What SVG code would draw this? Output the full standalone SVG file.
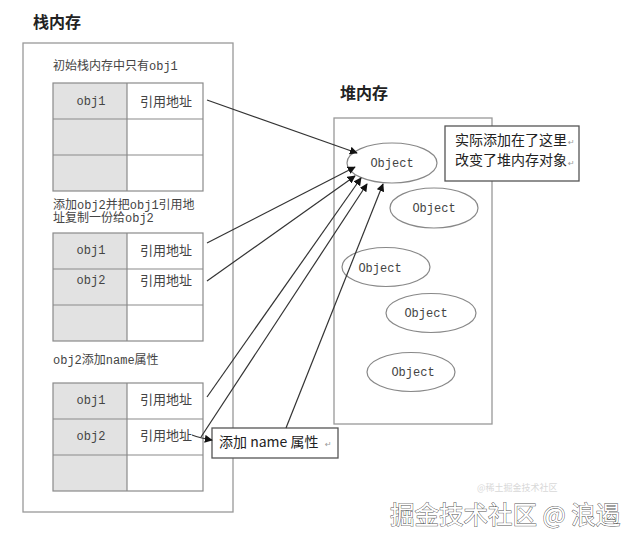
<svg xmlns="http://www.w3.org/2000/svg" width="642" height="546" viewBox="0 0 642 546">
<defs>
<marker id="ah" viewBox="0 0 10 10" refX="9" refY="5" markerWidth="8" markerHeight="8" markerUnits="userSpaceOnUse" orient="auto">
<path d="M0,0 L10,5 L0,10 z" fill="#111"/>
</marker>
</defs>
<style>
.title{font-family:"Noto Sans CJK SC","Noto Sans",sans-serif;font-size:16px;font-weight:bold;fill:#222}
.lbl{font-family:"Liberation Mono","Noto Sans CJK SC",monospace;font-size:12px;fill:#444}
.cell{font-family:"Liberation Mono","Noto Sans CJK SC",monospace;font-size:12px;fill:#444;text-anchor:middle}
.ref{font-family:"Noto Sans CJK SC",sans-serif;font-size:13px;fill:#444;text-anchor:middle}
.box{fill:none;stroke:#999;stroke-width:1.3}
.gray{fill:#e2e2e2;stroke:none}
.grid{fill:none;stroke:#8a8a8a;stroke-width:1.2}
.ell{fill:#fff;stroke:#888;stroke-width:1.2}
.obj{font-family:"Liberation Mono",monospace;font-size:12px;fill:#444;text-anchor:middle}
.note{fill:#fff;stroke:#555;stroke-width:1.3}
.nt{font-family:"Noto Sans CJK SC",sans-serif;font-size:14px;fill:#222}
.ret{font-family:"DejaVu Sans",sans-serif;font-size:8px;fill:#999}
.conn{fill:none;stroke:#333;stroke-width:1.2;marker-end:url(#ah)}
</style>
<rect width="642" height="546" fill="#fff"/>

<g id="stack">
<text class="title" x="33" y="28">栈内存</text>
<rect class="box" x="23" y="43" width="210" height="469"/>
</g>

<g id="table1">
<text class="lbl" x="53" y="70">初始栈内存中只有obj1</text>
<rect class="gray" x="53" y="83" width="74" height="108"/>
<rect class="grid" x="53" y="83" width="150" height="108"/>
<line class="grid" x1="127" y1="83" x2="127" y2="191"/>
<line class="grid" x1="53" y1="119" x2="203" y2="119"/>
<line class="grid" x1="53" y1="155" x2="203" y2="155"/>
<text class="cell" x="91" y="105">obj1</text>
<text class="ref" x="166" y="106">引用地址</text>
</g>

<g id="table2">
<text class="lbl" x="53" y="209">添加obj2并把obj1引用地</text>
<text class="lbl" x="53" y="222">址复制一份给obj2</text>
<rect class="gray" x="53" y="233" width="74" height="108"/>
<rect class="grid" x="53" y="233" width="150" height="108"/>
<line class="grid" x1="127" y1="233" x2="127" y2="341"/>
<line class="grid" x1="53" y1="269" x2="203" y2="269"/>
<line class="grid" x1="53" y1="305" x2="203" y2="305"/>
<text class="cell" x="91" y="254">obj1</text>
<text class="ref" x="166" y="255">引用地址</text>
<text class="cell" x="91" y="284">obj2</text>
<text class="ref" x="166" y="285">引用地址</text>
</g>

<g id="table3">
<text class="lbl" x="53" y="364">obj2添加name属性</text>
<rect class="gray" x="53" y="383" width="74" height="108"/>
<rect class="grid" x="53" y="383" width="150" height="108"/>
<line class="grid" x1="127" y1="383" x2="127" y2="491"/>
<line class="grid" x1="53" y1="419" x2="203" y2="419"/>
<line class="grid" x1="53" y1="455" x2="203" y2="455"/>
<text class="cell" x="91" y="404">obj1</text>
<text class="ref" x="166" y="404">引用地址</text>
<text class="cell" x="91" y="440">obj2</text>
<text class="ref" x="166" y="440">引用地址</text>
</g>

<g id="heap">
<text class="title" x="340" y="99">堆内存</text>
<rect class="box" x="334" y="118" width="158" height="306"/>
</g>

<g id="obj-1"><ellipse class="ell" cx="392" cy="163" rx="45" ry="20"/><text class="obj" x="392" y="167">Object</text></g>
<g id="obj-2"><ellipse class="ell" cx="434" cy="208" rx="44" ry="20"/><text class="obj" x="434" y="212">Object</text></g>
<g id="obj-3"><ellipse class="ell" cx="386" cy="267" rx="44" ry="19.5"/><text class="obj" x="380" y="272">Object</text></g>
<g id="obj-4"><ellipse class="ell" cx="431" cy="313" rx="45" ry="19.5"/><text class="obj" x="426" y="317">Object</text></g>
<g id="obj-5"><ellipse class="ell" cx="411" cy="372" rx="44" ry="19.5"/><text class="obj" x="413" y="376">Object</text></g>

<g id="note">
<rect class="note" x="445" y="126" width="134" height="55"/>
<text class="nt" x="455" y="145">实际添加在了这里</text><text class="ret" x="568" y="145">↵</text>
<text class="nt" x="455" y="165">改变了堆内存对象</text><text class="ret" x="568" y="166">↵</text>
</g>

<g id="name-box">
<rect class="note" x="212" y="428" width="126" height="30"/>
<text class="nt" x="219" y="447">添加 name 属性</text><text class="ret" x="325" y="447">↵</text>
</g>

<g id="connectors">
<line class="conn" x1="207" y1="100" x2="357" y2="153"/>
<line class="conn" x1="207" y1="243" x2="355" y2="167"/>
<line class="conn" x1="207" y1="281" x2="355" y2="176"/>
<line class="conn" x1="207" y1="397" x2="361" y2="178"/>
<line class="conn" x1="201" y1="437" x2="367" y2="184"/>
<line class="conn" x1="286" y1="428" x2="383" y2="184"/>
<path class="conn" d="M192,435 Q200,438 212,440"/>
</g>

<g id="watermark">
<text x="477" y="491" font-family="Noto Sans CJK SC,sans-serif" font-size="9" fill="#d8d8d8">@稀土掘金技术社区</text>
<text x="390" y="524" font-family="Noto Sans CJK SC,sans-serif" font-size="24.5" fill="#fff" stroke="#555" stroke-width="0.9" paint-order="stroke">掘金技术社区 @ 浪遏</text>
</g>
</svg>
